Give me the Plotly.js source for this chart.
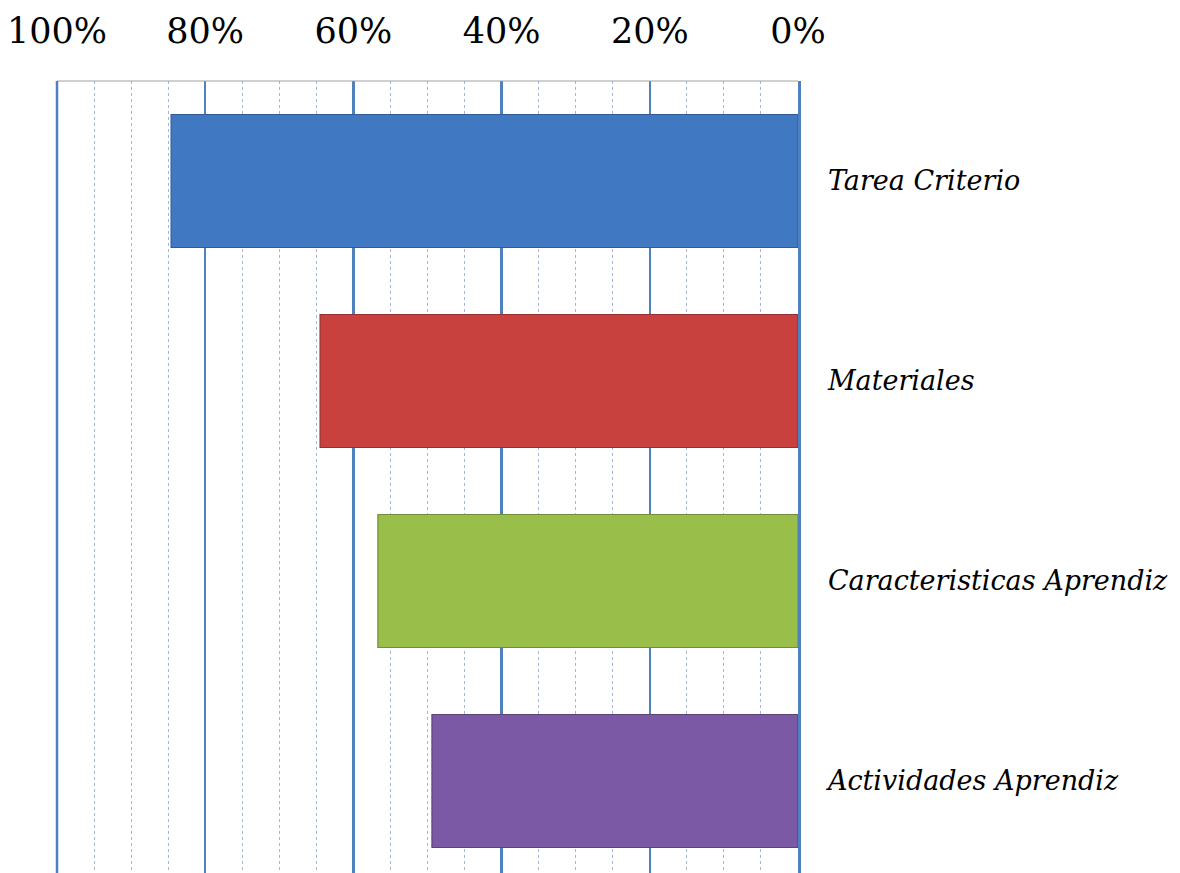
<!DOCTYPE html>
<html>
<head>
<meta charset="utf-8">
<script src="https://cdn.plot.ly/plotly-3.0.1.min.js"></script>
<style>
html,body{margin:0;padding:0;background:#fff;overflow:hidden;}
#chart{width:1180px;height:873px;}
</style>
</head>
<body>
<div id="chart"></div>
<script>
const categories = ["Tarea Criterio", "Materiales", "Caracteristicas Aprendiz", "Actividades Aprendiz"];
const values = [84.6, 64.5, 56.7, 49.4];
const barColors = ["#4078C2", "#C8413F", "#99BF4A", "#7B59A4"];
const borderColors = ["#2F5C96", "#962F2D", "#728F37", "#5A427A"];
const tickValues = [0, 20, 40, 60, 80, 100];
const tickLabels = ["0%", "20%", "40%", "60%", "80%", "100%"];

const serif = "'DejaVu Serif', 'Liberation Serif', serif";

const trace = {
  type: "bar",
  orientation: "h",
  x: values,
  y: categories,
  width: 0.665,
  marker: {color: barColors, line: {color: borderColors, width: 1.2}},
  hoverinfo: "skip"
};

const layout = {
  width: 1180,
  height: 873,
  margin: {l: 57, r: 382, t: 81, b: 0, pad: 0},
  paper_bgcolor: "#ffffff",
  plot_bgcolor: "#ffffff",
  showlegend: false,
  bargap: 0.335,
  font: {family: serif},
  xaxis: {
    side: "top",
    range: [100, 0],
    tickvals: tickValues,
    ticktext: tickLabels,
    tickfont: {family: serif, size: 35, color: "#000"},
    ticks: "",
    ticklabelstandoff: 30,
    showgrid: true,
    gridcolor: "#4F81BD",
    gridwidth: 2.5,
    zeroline: false,
    showline: false,
    minor: {dtick: 5, showgrid: true, gridcolor: "#9DB9DE", gridwidth: 1, griddash: "dot"},
    fixedrange: true
  },
  yaxis: {
    side: "right",
    type: "category",
    range: [3.46, -0.5],
    tickfont: {family: serif, size: 27, color: "#000", style: "italic"},
    ticks: "",
    ticklabelstandoff: 22,
    showgrid: false,
    zeroline: false,
    showline: true,
    linecolor: "#4F81BD",
    linewidth: 2.5,
    fixedrange: true
  },
  shapes: [
    {type: "line", xref: "paper", yref: "paper", x0: 0, x1: 1, y0: 1, y1: 1,
     line: {color: "#A0A0A0", width: 1}},
    {type: "line", xref: "paper", yref: "paper", x0: 0, x1: 0, y0: 0, y1: 1,
     line: {color: "#4F81BD", width: 2.5}}
  ]
};

Plotly.newPlot("chart", [trace], layout, {displayModeBar: false, staticPlot: true});
</script>
</body>
</html>
